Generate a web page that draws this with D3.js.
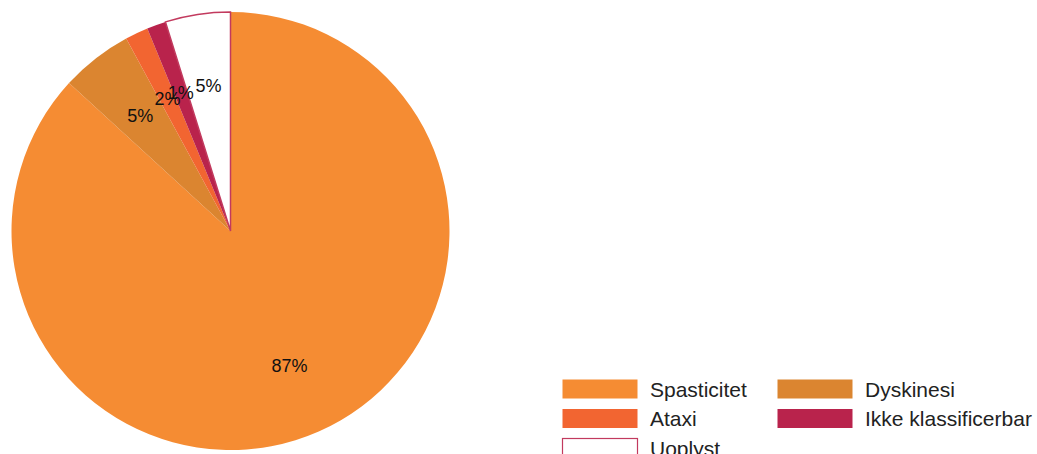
<!DOCTYPE html>
<meta charset="utf-8">
<style>
  body { margin: 0; background: #fff; }
  svg { display: block; font-family: "Liberation Sans", Arial, sans-serif; }
</style>
<svg></svg>
<script src="https://cdn.jsdelivr.net/npm/d3@7"></script>
<script>
// data
var categories = ["Spasticitet", "Dyskinesi", "Ataxi", "Ikke klassificerbar", "Uoplyst"],
    shares = [86.8, 5.3, 1.7, 1.4, 4.8],
    fills = ["#f58c33", "#db8530", "#f26531", "#b9234c", "#ffffff"];

var width = 1037, height = 454;
var svg = d3.select("svg").attr("width", width).attr("height", height);

var cx = 230.5, cy = 231, radius = 219;

// pie goes clockwise from 12 o'clock
var pie = d3.pie().sort(null).value(function(d) { return d.v; });
var rows = categories.map(function(c, i) { return {name: c, v: shares[i], fill: fills[i]}; });
var arcs = pie(rows);

var arc = d3.arc().innerRadius(0).outerRadius(radius);
var labelArc = d3.arc().innerRadius(radius * 0.67).outerRadius(radius * 0.67);

var g = svg.append("g").attr("transform", "translate(" + cx + "," + cy + ")");

g.selectAll("path.slice")
  .data(arcs)
  .enter().append("path")
  .attr("class", "slice")
  .attr("d", arc)
  .attr("fill", function(d) { return d.data.fill; })
  .attr("stroke", function(d) { return d.data.fill == "#ffffff" ? "#c23a5e" : "none"; })
  .attr("stroke-width", 1.5);

g.selectAll("text.lbl")
  .data(arcs)
  .enter().append("text")
  .attr("class", "lbl")
  .attr("transform", function(d) { return "translate(" + labelArc.centroid(d) + ")"; })
  .attr("text-anchor", "middle")
  .attr("dy", "0.35em")
  .attr("font-size", 18)
  .attr("fill", "#111")
  .text(function(d) { return Math.round(d.data.v) + "%"; });

// legend, two columns
var colX = [562, 777], rowY = 379, rowStep = 29.5;
var leg = svg.append("g");
var item = leg.selectAll("g")
  .data(rows)
  .enter().append("g")
  .attr("transform", function(d, i) {
    return "translate(" + colX[i % 2] + "," + (rowY + Math.floor(i / 2) * rowStep) + ")";
  });

item.append("rect")
  .attr("x", 0.5).attr("y", 0.5)
  .attr("width", 75).attr("height", 19)
  .attr("fill", function(d) { return d.fill; })
  .attr("stroke", function(d) { return d.fill == "#ffffff" ? "#c23a5e" : "none"; })
  .attr("stroke-width", 1.2);

item.append("text")
  .attr("x", 88)
  .attr("y", 10)
  .attr("dy", "0.36em")
  .attr("font-size", 21)
  .attr("fill", "#222")
  .text(function(d) { return d.name; });
</script>
